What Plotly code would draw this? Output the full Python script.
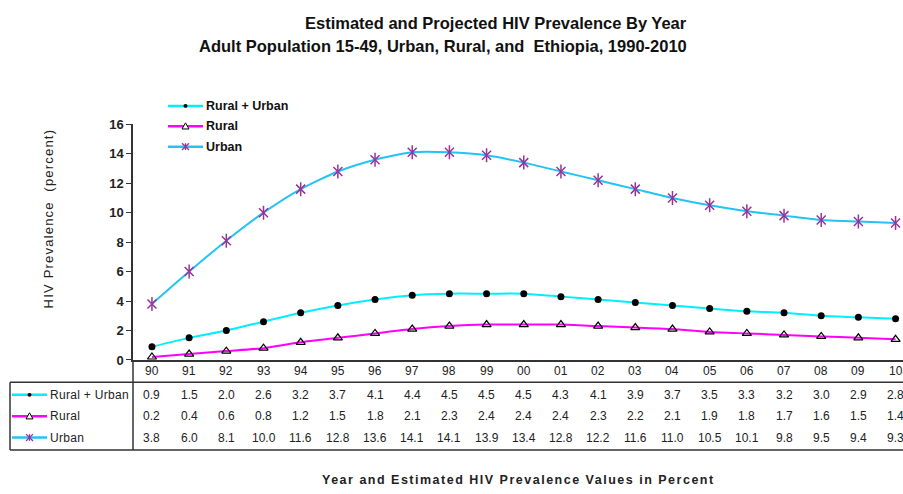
import plotly.graph_objects as go

years = ["90", "91", "92", "93", "94", "95", "96", "97", "98", "99", "00",
         "01", "02", "03", "04", "05", "06", "07", "08", "09", "10"]
rural_urban = [0.9, 1.5, 2.0, 2.6, 3.2, 3.7, 4.1, 4.4, 4.5, 4.5, 4.5,
               4.3, 4.1, 3.9, 3.7, 3.5, 3.3, 3.2, 3.0, 2.9, 2.8]
rural = [0.2, 0.4, 0.6, 0.8, 1.2, 1.5, 1.8, 2.1, 2.3, 2.4, 2.4,
         2.4, 2.3, 2.2, 2.1, 1.9, 1.8, 1.7, 1.6, 1.5, 1.4]
urban = [3.8, 6.0, 8.1, 10.0, 11.6, 12.8, 13.6, 14.1, 14.1, 13.9, 13.4,
         12.8, 12.2, 11.6, 11.0, 10.5, 10.1, 9.8, 9.5, 9.4, 9.3]
series_names = ["Rural + Urban", "Rural", "Urban"]

W, H = 903, 494
FONT = "Liberation Sans, Arial, sans-serif"
C_RU = "#00EEFF"
C_R = "#FF00FF"
C_U = "#22C4F4"
C_STAR = "#993399"
AX = "#333333"


def X(px):
    return px / W


def Y(py):
    return 1 - py / H


xi = list(range(len(years)))

fig = go.Figure()
fig.add_trace(go.Scatter(x=xi, y=rural_urban, mode="lines+markers", name=series_names[0],
                         line=dict(color=C_RU, width=2, shape="spline", smoothing=0.6),
                         marker=dict(symbol="circle", size=7, color="black")))
fig.add_trace(go.Scatter(x=xi, y=rural, mode="lines+markers", name=series_names[1],
                         line=dict(color=C_R, width=2, shape="spline", smoothing=0.6),
                         marker=dict(symbol="triangle-up-open", size=8, color="black",
                                     line=dict(color="black", width=1.2))))
fig.add_trace(go.Scatter(x=xi, y=urban, mode="lines+markers", name=series_names[2],
                         line=dict(color=C_U, width=2, shape="spline", smoothing=0.6),
                         marker=dict(symbol="x-thin-open", size=9, color=C_STAR,
                                     line=dict(color=C_STAR, width=1.5))))
fig.add_trace(go.Scatter(x=xi, y=urban, mode="markers", showlegend=False, hoverinfo="skip",
                         marker=dict(symbol="line-ns-open", size=10, color=C_STAR,
                                     line=dict(color=C_STAR, width=1.5))))

shapes = []
annotations = []


def line(x0, y0, x1, y1, color=AX, width=1.5):
    shapes.append(dict(type="line", xref="paper", yref="paper",
                       x0=X(x0), y0=Y(y0), x1=X(x1), y1=Y(y1),
                       line=dict(color=color, width=width)))


def key(x0, x1, y, color, kind):
    line(x0, y, x1, y, color=color, width=2.5)
    cx = (x0 + x1) / 2
    if kind == "circle":
        r = 2
        shapes.append(dict(type="circle", xref="paper", yref="paper",
                           x0=X(cx - r), x1=X(cx + r), y0=Y(y + r), y1=Y(y - r),
                           fillcolor="black", line=dict(color="black", width=0)))
    elif kind == "tri":
        s = 3.5
        path = "M {} {} L {} {} L {} {} Z".format(X(cx - s), Y(y + s * 0.8), X(cx + s), Y(y + s * 0.8),
                                                  X(cx), Y(y - s))
        shapes.append(dict(type="path", xref="paper", yref="paper", path=path,
                           fillcolor="white", line=dict(color="black", width=1)))
    else:
        s = 3.5
        for dx0, dy0, dx1, dy1 in [(-s, -s, s, s), (-s, s, s, -s), (0, -s, 0, s)]:
            line(cx + dx0, y + dy0, cx + dx1, y + dy1, color=C_STAR, width=1.3)


def spaced(t, px):
    return '<span style="letter-spacing:{}px">{}</span>'.format(px, t)


kinds = ["circle", "tri", "star"]
colors = [C_RU, C_R, C_U]

# chart legend (top-left)
leg_y = [102, 123, 144]
for name, ly, c, k in zip(series_names, leg_y, colors, kinds):
    key(168, 203, ly, c, k)
    annotations.append(dict(text=name, x=X(204), y=Y(ly), xref="paper", yref="paper",
                            xanchor="left", yanchor="middle", showarrow=False,
                            font=dict(family=FONT, size=12.5, color="#111", weight="bold")))

# data table
row_y = [400, 422, 444]
TF = dict(family=FONT, size=12, color="#222")
for name, ry, c, k in zip(series_names, row_y, colors, kinds):
    key(12, 47, ry, c, k)
    annotations.append(dict(text=spaced(name, 0.3), x=X(48), y=Y(ry), xref="paper", yref="paper",
                            xanchor="left", yanchor="middle", showarrow=False, font=TF))
for i, yr in enumerate(years):
    annotations.append(dict(text=yr, x=i, y=Y(375), xref="x", yref="paper",
                            xanchor="center", yanchor="middle", showarrow=False, font=TF))
for vals, ry in zip([rural_urban, rural, urban], row_y):
    for i, v in enumerate(vals):
        annotations.append(dict(text="{:.1f}".format(v), x=i, y=Y(ry), xref="x", yref="paper",
                                xanchor="center", yanchor="middle", showarrow=False, font=TF))

line(10, 387, W, 387)
line(10, 457, W, 457)
line(10, 387, 10, 457)
line(133, 364, 133, 457)

# titles
TT = dict(family=FONT, size=16.5, color="#111", weight="bold")
annotations.append(dict(text="Estimated and Projected HIV Prevalence By Year", x=X(689), y=Y(17),
                        xref="paper", yref="paper", xanchor="right", yanchor="middle", showarrow=False,
                        font=TT))
annotations.append(dict(text="Adult Population 15-49, Urban, Rural, and  Ethiopia, 1990-2010", x=X(689), y=Y(40),
                        xref="paper", yref="paper", xanchor="right", yanchor="middle", showarrow=False,
                        font=TT))
annotations.append(dict(text=spaced("HIV Prevalence  (percent)", 1.2), x=X(48), y=Y(218), textangle=-90,
                        xref="paper", yref="paper", xanchor="center", yanchor="middle", showarrow=False,
                        font=dict(family=FONT, size=13, color="#222")))
annotations.append(dict(text=spaced("Year and Estimated HIV Prevalence Values in Percent", 1.5),
                        x=X(518), y=Y(488),
                        xref="paper", yref="paper", xanchor="center", yanchor="middle", showarrow=False,
                        font=dict(family=FONT, size=12.5, color="#222", weight="bold")))

fig.update_layout(
    width=W, height=H,
    margin=dict(l=0, r=0, t=0, b=0),
    paper_bgcolor="white", plot_bgcolor="white",
    showlegend=False,
    shapes=shapes, annotations=annotations,
    xaxis=dict(domain=[X(133), 1], range=[-0.51, 20.2], showgrid=False, zeroline=False,
               showticklabels=False, ticks="", showline=True, linecolor=AX, linewidth=1.5),
    yaxis=dict(domain=[Y(364), Y(121)], range=[0, 16], dtick=2, showgrid=False, zeroline=False,
               ticks="outside", ticklen=5, tickcolor=AX, tickwidth=1.2,
               showline=True, linecolor=AX, linewidth=1.5,
               tickfont=dict(family=FONT, size=13, color="#222", weight="bold")),
)

fig.write_html("out.html")
